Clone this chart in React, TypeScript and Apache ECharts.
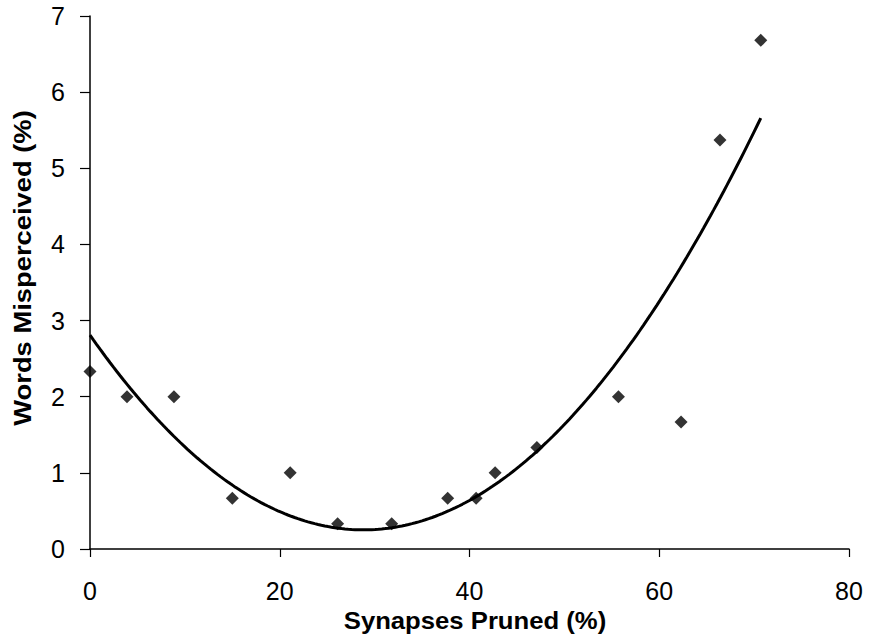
import React, { useEffect, useRef } from "react";
import * as echarts from "echarts";

const synapsesPruned = [0, 3.9, 8.85, 15, 21.1, 26.1, 31.8, 37.7, 40.7, 42.7, 47.1, 55.7, 62.3, 66.4, 70.7];
const wordsMisperceived = [2.33, 2, 2, 0.667, 1, 0.333, 0.333, 0.667, 0.667, 1, 1.333, 2, 1.667, 5.37, 6.68];
const xTitle = "Synapses Pruned (%)";
const yTitle = "Words Misperceived (%)";

// Least-squares quadratic trend line (like a spreadsheet's order-2 polynomial trendline)
function quadFit(xs: number[], ys: number[]) {
  const n = xs.length;
  let s0 = n, s1 = 0, s2 = 0, s3 = 0, s4 = 0, t0 = 0, t1 = 0, t2 = 0;
  for (let i = 0; i < n; i++) {
    const x = xs[i], y = ys[i];
    s1 += x; s2 += x * x; s3 += x ** 3; s4 += x ** 4;
    t0 += y; t1 += x * y; t2 += x * x * y;
  }
  const M = [
    [s0, s1, s2, t0],
    [s1, s2, s3, t1],
    [s2, s3, s4, t2],
  ];
  for (let c = 0; c < 3; c++) {
    let p = c;
    for (let r = c + 1; r < 3; r++) if (Math.abs(M[r][c]) > Math.abs(M[p][c])) p = r;
    [M[c], M[p]] = [M[p], M[c]];
    for (let r = 0; r < 3; r++) {
      if (r === c) continue;
      const f = M[r][c] / M[c][c];
      for (let k = c; k < 4; k++) M[r][k] -= f * M[c][k];
    }
  }
  return [M[0][3] / M[0][0], M[1][3] / M[1][1], M[2][3] / M[2][2]];
}

export default function App() {
  const ref = useRef<HTMLDivElement>(null);
  useEffect(() => {
    document.body.style.margin = "0";
    const chart = echarts.init(ref.current!, null, { renderer: "svg" });
    const [a0, a1, a2] = quadFit(synapsesPruned, wordsMisperceived);
    const xMax = Math.max(...synapsesPruned);
    const trend: number[][] = [];
    for (let i = 0; i <= 200; i++) {
      const x = (xMax * i) / 200;
      trend.push([x, a0 + a1 * x + a2 * x * x]);
    }
    const font = "'Liberation Sans', Arial, sans-serif";
    chart.setOption({
      animation: false,
      backgroundColor: "#ffffff",
      grid: { left: 90, right: 20, top: 16, bottom: 90, containLabel: false },
      xAxis: {
        type: "value",
        min: 0,
        max: 80,
        interval: 20,
        splitLine: { show: false },
        axisLine: { show: true, onZero: false, lineStyle: { color: "#000", width: 1.5 } },
        axisTick: { show: true, inside: false, length: 8, lineStyle: { color: "#000", width: 1.2 } },
        axisLabel: { color: "#000", fontSize: 25, fontFamily: font, margin: 29 },
      },
      yAxis: {
        type: "value",
        min: 0,
        max: 7,
        interval: 1,
        splitLine: { show: false },
        axisLine: { show: true, onZero: false, lineStyle: { color: "#000", width: 1.5 } },
        axisTick: { show: true, inside: false, length: 10, lineStyle: { color: "#000", width: 1.2 } },
        axisLabel: { color: "#000", fontSize: 25, fontFamily: font, margin: 25 },
      },
      graphic: [
        {
          type: "text",
          x: 475,
          y: 621,
          scaleX: 1.07,
          style: {
            text: xTitle,
            fill: "#000",
            font: `bold 24px ${font}`,
            textAlign: "center",
            textVerticalAlign: "middle",
          },
        },
        {
          type: "text",
          x: 23,
          y: 268,
          rotation: Math.PI / 2,
          scaleX: 1.14,
          style: {
            text: yTitle,
            fill: "#000",
            font: `bold 24px ${font}`,
            textAlign: "center",
            textVerticalAlign: "middle",
          },
        },
      ],
      series: [
        {
          type: "line",
          data: trend,
          showSymbol: false,
          smooth: false,
          lineStyle: { color: "#000", width: 3 },
          silent: true,
          z: 2,
        },
        {
          type: "scatter",
          data: synapsesPruned.map((x, i) => [x, wordsMisperceived[i]]),
          symbol: "diamond",
          symbolSize: [13, 13],
          itemStyle: { color: "#000" },
          z: 3,
        },
      ],
    });
    return () => chart.dispose();
  }, []);
  return <div ref={ref} style={{ width: 869, height: 639 }} />;
}
